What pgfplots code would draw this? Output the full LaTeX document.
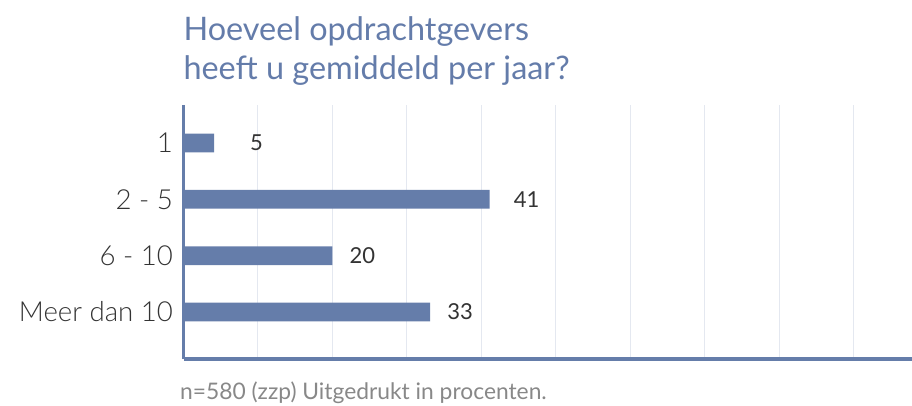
\documentclass[border=0pt]{standalone}
\usepackage{fontspec}
\setmainfont{Lato}
\newfontfamily\lightfont{Lato Light}
\usepackage{pgfplots}
\pgfplotsset{compat=1.18}
\usepackage{pgfplotstable}
\definecolor{barc}{RGB}{101,125,170}
\definecolor{titc}{RGB}{100,124,170}
\definecolor{txtc}{RGB}{51,51,51}
\definecolor{notec}{RGB}{136,136,136}
\definecolor{gridc}{RGB}{228,232,240}

\pgfplotstableread{
y val lab off
0 4.1 5 36
1 41.1 41 24
2 20 20 17
3 33.1 33 17
}\datatable

\begin{document}
\begin{tikzpicture}[x=1pt,y=1pt]
\useasboundingbox (0,0) rectangle (912,406);
\begin{axis}[
  at={(183.5pt,47pt)}, anchor=south west,
  scale only axis, width=728.5pt, height=254pt,
  xmin=0, xmax=97.8, ymin=-0.675, ymax=3.835, y dir=reverse,
  axis x line*=bottom, axis y line*=left,
  x axis line style={draw=barc, line width=3.5pt, -},
  y axis line style={draw=barc, line width=3pt, -},
  xtick={10,20,...,90}, xticklabels={},
  xmajorgrids, major grid style={draw=gridc, line width=1pt},
  ytick={0,1,2,3}, yticklabels={1,2 - 5,6 - 10,Meer dan 10},
  major tick length=0pt,
  yticklabel style={font=\lightfont\fontsize{27.6}{33}\selectfont, text=txtc, inner sep=0pt, anchor=east, xshift=-10.5pt},
  clip=false,
]
\addplot[xbar, bar width=18.7pt, fill=barc, draw=none,
  nodes near coords, point meta=explicit symbolic,
  visualization depends on={\thisrow{off} \as \myoff},
  every node near coord/.append style={anchor=west, inner sep=0pt, xshift=\myoff pt, font=\fontsize{22}{26}\selectfont, text=txtc}]
  table[x=val, y=y, meta=lab] {\datatable};
\end{axis}
\node[anchor=base west, inner sep=0pt, text=titc, font=\fontsize{32.4}{40}\selectfont] at (183.3,365.3) {Hoeveel opdrachtgevers};
\node[anchor=base west, inner sep=0pt, text=titc, font=\fontsize{32.4}{40}\selectfont] at (183.3,326) {heeft u gemiddeld per jaar?};
\node[anchor=base west, inner sep=0pt, text=notec, font=\fontsize{22.8}{27}\selectfont] at (180,6) {n=580 (zzp) Uitgedrukt in procenten.};
\end{tikzpicture}
\end{document}
